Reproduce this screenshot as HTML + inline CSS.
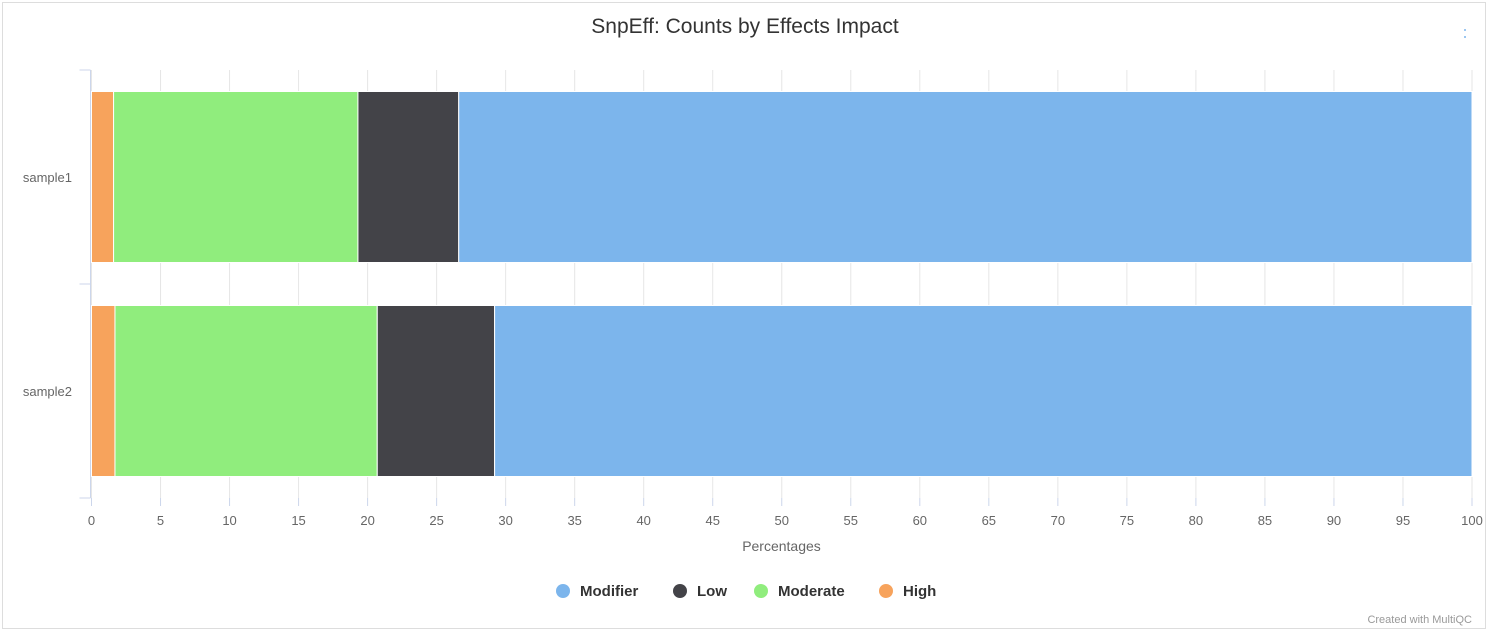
<!DOCTYPE html>
<html><head><meta charset="utf-8"><style>
body{margin:0;background:#fff;font-family:"Liberation Sans","DejaVu Sans",sans-serif;}
svg{display:block}
</style></head><body>
<svg id="chart" width="1489" height="632">
<rect x="2.5" y="2.5" width="1483" height="626" fill="#fff" stroke="#ddd"/>
<text x="745" y="33" text-anchor="middle" font-size="21" fill="#333">SnpEff: Counts by Effects Impact</text>
<g fill="#7cb5ec"><circle cx="1465" cy="30" r="1"/><circle cx="1465" cy="37" r="1"/></g>
<g id="grid"></g><g id="bars"></g><g id="axes"></g>
<text x="781.5" y="551" text-anchor="middle" font-size="14" fill="#666">Percentages</text>
<g id="legend" font-size="15" font-weight="bold" fill="#333"></g>
<text x="1472" y="623" text-anchor="end" font-size="11" fill="#999">Created with MultiQC</text>
</svg>
<script>
const categories=["sample1","sample2"];
const seriesNames=["High","Moderate","Low","Modifier"];
const seriesColors=["#f7a35c","#90ed7d","#434348","#7cb5ec"];
const high=[1.6,1.7];
const moderate=[17.7,19.0];
const low=[7.3,8.5];
const modifier=[73.4,70.8];
const xTicks=[0,5,10,15,20,25,30,35,40,45,50,55,60,65,70,75,80,85,90,95,100];
const NS="http://www.w3.org/2000/svg";
const X0=91.5,X1=1472,Y0=70,Y1=498;
const xs=v=>X0+(v/100)*(X1-X0);
const band=(Y1-Y0)/categories.length;
function mk(t,a,p){const e=document.createElementNS(NS,t);for(const k in a)e.setAttribute(k,a[k]);p.appendChild(e);return e;}
const grid=document.getElementById('grid'),bars=document.getElementById('bars'),axes=document.getElementById('axes'),legend=document.getElementById('legend');
xTicks.forEach(t=>{
  const l=mk('line',{x1:xs(t),x2:xs(t),y1:Y0,y2:Y1,stroke:'#e6e6e6'},grid);
  
  
  const tk=mk('line',{x1:xs(t),x2:xs(t),y1:Y1,y2:Y1+8,stroke:'#ccd6eb'},axes);
  
  
  const tx=mk('text',{x:xs(t),y:Y1+27,'text-anchor':'middle','font-size':13,fill:'#666'},axes);
  tx.textContent=t;
  
  
});
const al=mk('line',{x1:X0-1,x2:X0-1,y1:Y0,y2:Y1,stroke:'#ccd6eb'},axes);


for(let i=0;i<=categories.length;i++){
  const tk=mk('line',{x1:X0-12,x2:X0-1,y1:Y0+i*band,y2:Y0+i*band,stroke:'#ccd6eb'},axes);
  
  
}
const data=[high,moderate,low,modifier];
categories.forEach((c,i)=>{
  const yc=Y0+band*(i+0.5);
  const tx=mk('text',{x:72,y:yc+5,'text-anchor':'end','font-size':13,fill:'#666'},axes);
  tx.textContent=c;
  
  
  let acc=0;
  data.forEach((s,j)=>{
    const r=mk('rect',{x:xs(acc),y:yc-85.5,width:xs(acc+s[i])-xs(acc),height:171,fill:seriesColors[j],stroke:'#fff','stroke-width':1},bars);
    
    
    acc+=s[i];
  });
});
const leg=[["Modifier",3,563,"#7cb5ec"],["Low",2,680,"#434348"],["Moderate",1,761,"#90ed7d"],["High",0,886,"#f7a35c"]];
leg.forEach(([n,j,x,col])=>{
  const g=mk('g',{},legend);
  
  
  mk('circle',{cx:x,cy:591,r:7,fill:col},g);
  const t=mk('text',{x:x+17,y:596},g);t.textContent=n;
});
</script>
</body></html>
